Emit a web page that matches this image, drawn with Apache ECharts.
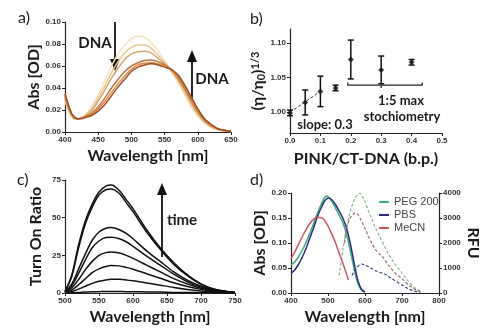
<!DOCTYPE html>
<html>
<head>
<meta charset="utf-8">
<script src="https://cdn.jsdelivr.net/npm/echarts@6/dist/echarts.min.js"></script>
<style>
  html, body { margin: 0; padding: 0; background: #fff; }
  #chart { width: 499px; height: 336px; }
</style>
</head>
<body>
<div id="chart"></div>
<script>
// ---- a) absorbance titration spectra ----
const waveA = [400,405,410,415,420,425,430,440,450,460,470,480,490,500,510,520,530,540,550,560,570,580,590,600,610,620,630,640,650];
const absA1 = [0.028,0.020,0.014,0.012,0.012,0.013,0.015,0.023,0.034,0.047,0.060,0.071,0.079,0.085,0.087,0.086,0.081,0.074,0.065,0.055,0.045,0.034,0.023,0.014,0.008,0.004,0.002,0.001,0.0005];
const absA2 = [0.030,0.021,0.015,0.012,0.012,0.013,0.015,0.021,0.031,0.042,0.054,0.064,0.072,0.077,0.079,0.079,0.076,0.070,0.063,0.056,0.047,0.036,0.025,0.016,0.009,0.005,0.002,0.001,0.0005];
const absA3 = [0.031,0.022,0.015,0.012,0.012,0.013,0.014,0.019,0.028,0.038,0.049,0.058,0.066,0.071,0.073,0.0735,0.072,0.067,0.062,0.056,0.048,0.038,0.027,0.017,0.010,0.005,0.003,0.001,0.0005];
const absA4 = [0.033,0.023,0.016,0.013,0.012,0.013,0.014,0.017,0.023,0.031,0.040,0.048,0.055,0.060,0.063,0.065,0.0655,0.064,0.061,0.057,0.050,0.040,0.029,0.019,0.011,0.006,0.003,0.0015,0.0005];
const absA5 = [0.034,0.024,0.016,0.013,0.012,0.013,0.014,0.016,0.021,0.028,0.036,0.044,0.051,0.057,0.061,0.0625,0.063,0.062,0.060,0.057,0.051,0.042,0.031,0.020,0.012,0.006,0.003,0.0015,0.0005];
const absA6 = [0.035,0.025,0.017,0.013,0.012,0.012,0.013,0.015,0.019,0.025,0.033,0.041,0.048,0.055,0.059,0.061,0.062,0.061,0.059,0.057,0.052,0.043,0.032,0.021,0.012,0.007,0.003,0.0015,0.0005];
const curvesA = [absA1, absA2, absA3, absA4, absA5, absA6];
const colorsA = ['#f4e2bf', '#ecc68e', '#d8a56c', '#b9774a', '#e58a3a', '#9c4f2a'];

// ---- b) viscosity vs. binding ratio ----
const ratioB = [0, 0.05, 0.1, 0.15, 0.2, 0.3, 0.4];
const viscB  = [0.999, 1.014, 1.030, 1.035, 1.076, 1.061, 1.072];
const errB   = [0.004, 0.018, 0.022, 0.004, 0.028, 0.020, 0.004];
const slopeX = [0, 0.1];
const slopeY = [1.0, 1.03];
const bracketX = [0.19, 0.19, 0.435, 0.435];
const bracketY = [1.043, 1.039, 1.039, 1.043];
const bracketMidX = [0.3, 0.3];
const bracketMidY = [1.039, 1.035];
const yTicksB = [1.00, 1.05, 1.10];

// ---- c) fluorescence turn-on over time ----
const waveC = [500,510,520,530,540,550,560,568,580,590,600,620,640,660,680,700,720,750];
const turnC1 = [1,12,32,48,59,67,71,71.7,68,62,56,42,30,20,12,6,2.5,0.3];
const turnC2 = [1,11,30,46,57,65,68.5,69,66,60,54,40.5,29,19,11.5,5.7,2.3,0.3];
const turnC3 = [0.5,6,16,26,35,40.5,43,43.4,42,39.5,36,28,21,14,8.5,4.5,2,0.3];
const turnC4 = [0.5,5,13,22,30,34.5,36.8,37,36,34,31,24.5,18.5,12.5,7.5,4,1.8,0.3];
const turnC5 = [0.3,3.5,9,15.5,21,25,26.8,27.2,26.5,25,23,18.5,14,9.5,6,3.2,1.5,0.2];
const turnC6 = [0.2,2,5.5,9.5,13.5,16,17.6,18.2,18,17,15.8,12.8,9.8,6.8,4.3,2.4,1.1,0.2];
const turnC7 = [0.1,1,2.6,4.5,6.4,7.8,8.7,9.1,9.1,8.7,8.1,6.7,5.2,3.7,2.4,1.4,0.7,0.1];
const turnC8 = [0,0.2,0.4,0.6,0.8,0.9,1,1,1,0.9,0.9,0.7,0.6,0.4,0.3,0.2,0.1,0];
const curvesC = [turnC1, turnC2, turnC3, turnC4, turnC5, turnC6, turnC7, turnC8];

// ---- d) solvent dependence: absorbance (solid) and emission (dashed) ----
const solvents = ['PEG 200', 'PBS', 'MeCN'];
const solventColors = ['#3fae7c', '#2b2d82', '#cf5560'];
const emissionColors = ['#86b48c', '#3c3d7a', '#9a6a66'];
const waveAbsD = [400,410,420,430,440,450,460,470,480,490,496,500,510,520,530,540,550,560,570,580,590,600];
const absPEG = [0.056,0.062,0.072,0.085,0.100,0.118,0.137,0.157,0.175,0.190,0.194,0.193,0.184,0.170,0.156,0.141,0.117,0.086,0.050,0.021,0.006,0.002];
const absPBS = [0.039,0.046,0.057,0.071,0.088,0.108,0.128,0.150,0.168,0.183,0.188,0.190,0.187,0.177,0.164,0.150,0.130,0.100,0.062,0.027,0.008,0.002];
const waveAbsMeCN = [400,410,420,430,440,450,460,470,480,490,500,510,520,530,540,550,555];
const absMeCN = [0.068,0.082,0.097,0.112,0.126,0.138,0.147,0.151,0.151,0.146,0.134,0.118,0.101,0.080,0.060,0.038,0.026];
const waveEmPEG = [530,540,550,560,570,580,586,590,600,610,620,630,640,650,660,670,680,690,700,710,720,730,740,750];
const emPEG = [700,1700,2600,3250,3700,3950,3990,3940,3650,3250,2900,2550,2250,1950,1650,1400,1180,980,800,600,420,260,140,60];
const waveEmMeCN = [545,550,560,570,575,580,590,600,610,620,630,640,650,660,670,680,690,700,710,720,730,740,750];
const emMeCN = [2000,2550,3000,3180,3200,3150,2900,2580,2250,1950,1700,1550,1400,1180,990,820,690,580,430,300,190,110,50];
const waveEmPBS = [565,570,580,590,600,610,620,630,640,650,660,670,680,690,700,710,720,730,740,750];
const emPBS = [700,850,1050,1160,1120,1040,960,880,820,780,700,600,500,410,320,230,150,90,50,20];

const pairs = (xs, ys) => xs.map((x, i) => [x, ys[i]]);

const INK = '#1a1a1a';
const TITLE_FONT = { fontFamily: 'Lato', fontWeight: 'bold', fontSize: 16, color: INK };

function axis(extra) {
  const base = {
    type: 'value',
    axisLine: { show: true, lineStyle: { color: '#222', width: 1.2 } },
    axisTick: { show: true, length: 3, lineStyle: { color: '#222', width: 1 } },
    axisLabel: { fontFamily: 'Liberation Sans', fontWeight: 'bold', fontSize: 8, color: '#333', margin: 4 },
    splitLine: { show: false },
    nameLocation: 'middle',
    nameTextStyle: Object.assign({}, TITLE_FONT)
  };
  for (const k in extra) {
    if (base[k] && typeof base[k] === 'object' && typeof extra[k] === 'object' && !Array.isArray(extra[k])) {
      base[k] = Object.assign({}, base[k], extra[k]);
    } else {
      base[k] = extra[k];
    }
  }
  return base;
}

const series = [];

curvesA.forEach((c, i) => {
  series.push({
    type: 'line', xAxisIndex: 0, yAxisIndex: 0, data: pairs(waveA, c),
    showSymbol: false, smooth: 0.3, lineStyle: { color: colorsA[i], width: 1.5 }, silent: true
  });
});

series.push({
  type: 'line', xAxisIndex: 1, yAxisIndex: 1, data: pairs(slopeX, slopeY), showSymbol: false,
  lineStyle: { color: '#333', width: 1, type: [3, 2] }, silent: true
});
series.push({
  type: 'line', xAxisIndex: 1, yAxisIndex: 1, data: pairs(bracketX, bracketY), showSymbol: false,
  lineStyle: { color: '#222', width: 1.3 }, silent: true
});
series.push({
  type: 'line', xAxisIndex: 1, yAxisIndex: 1, data: pairs(bracketMidX, bracketMidY), showSymbol: false,
  lineStyle: { color: '#222', width: 1.3 }, silent: true
});
series.push({
  type: 'custom', xAxisIndex: 1, yAxisIndex: 1,
  data: ratioB.map((x, i) => [x, viscB[i], errB[i]]),
  encode: { x: 0, y: 1 },
  renderItem: function (params, api) {
    const x = api.value(0), y = api.value(1), e = api.value(2);
    const top = api.coord([x, y + e]);
    const bot = api.coord([x, y - e]);
    const w = 3;
    const st = { stroke: '#111', lineWidth: 1.5 };
    return {
      type: 'group', children: [
        { type: 'line', shape: { x1: top[0], y1: top[1], x2: bot[0], y2: bot[1] }, style: st },
        { type: 'line', shape: { x1: top[0] - w, y1: top[1], x2: top[0] + w, y2: top[1] }, style: st },
        { type: 'line', shape: { x1: bot[0] - w, y1: bot[1], x2: bot[0] + w, y2: bot[1] }, style: st }
      ]
    };
  },
  silent: true
});
series.push({
  type: 'scatter', xAxisIndex: 1, yAxisIndex: 1, data: pairs(ratioB, viscB),
  symbol: 'diamond', symbolSize: 6, itemStyle: { color: '#111' }, silent: true
});

curvesC.forEach(c => {
  series.push({
    type: 'line', xAxisIndex: 2, yAxisIndex: 2, data: pairs(waveC, c),
    showSymbol: false, smooth: 0.3, lineStyle: { color: '#111', width: 1.5 }, silent: true
  });
});

const absD = [pairs(waveAbsD, absPEG), pairs(waveAbsD, absPBS), pairs(waveAbsMeCN, absMeCN)];
const emD = [pairs(waveEmPEG, emPEG), pairs(waveEmPBS, emPBS), pairs(waveEmMeCN, emMeCN)];
solvents.forEach((name, i) => {
  series.push({
    name: name, type: 'line', xAxisIndex: 3, yAxisIndex: 3, data: absD[i],
    showSymbol: false, smooth: 0.3, lineStyle: { color: solventColors[i], width: 1.5 },
    itemStyle: { color: solventColors[i] }, silent: true
  });
  series.push({
    name: name + ' emission', type: 'line', xAxisIndex: 3, yAxisIndex: 4, data: emD[i],
    showSymbol: false, smooth: 0.3, lineStyle: { color: emissionColors[i], width: 1.2, type: [3, 2] }, silent: true
  });
});

function arrow(x, yTail, yTip, up) {
  const base = up ? yTip + 12 : yTip - 12;
  return [
    { type: 'line', shape: { x1: x, y1: yTail, x2: x, y2: base }, style: { stroke: '#111', lineWidth: 1.8 } },
    { type: 'polygon', shape: { points: [[x - 5, base], [x + 5, base], [x, yTip]] }, style: { fill: '#111' } }
  ];
}

function label(text, x, y, size, weight, align) {
  return {
    type: 'text', x: x, y: y,
    style: { text: text, fontFamily: 'Lato', fontSize: size, fontWeight: weight || 'bold', fill: INK,
             align: align || 'center', verticalAlign: 'middle' }
  };
}

const graphic = [
  label('a)', 18, 18, 16, 'normal', 'left'),
  label('b)', 250, 19, 16, 'normal', 'left'),
  label('c)', 17, 180, 16, 'normal', 'left'),
  label('d)', 250, 180, 16, 'normal', 'left'),
  label('DNA', 95, 43, 15),
  label('DNA', 212, 79, 15),
  label('time', 182, 220, 15),
  label('slope: 0.3', 325, 125, 13),
  label('1:5 max', 401, 101, 13),
  label('stochiometry', 402, 117, 13),
  ...arrow(115, 22, 71, false),
  ...arrow(192, 100, 50, true),
  ...arrow(162, 257, 183, true)
];

const option = {
  backgroundColor: '#fff',
  animation: false,
  grid: [
    { left: 65, top: 22, width: 166, height: 110 },
    { left: 290, top: 29, width: 152, height: 104 },
    { left: 65, top: 180, width: 170, height: 113 },
    { left: 291, top: 193, width: 148, height: 100 }
  ],
  xAxis: [
    axis({ gridIndex: 0, min: 400, max: 650, interval: 50, name: 'Wavelength [nm]', nameGap: 16 }),
    axis({ gridIndex: 1, min: 0, max: 0.5, interval: 0.1, name: 'PINK/CT-DNA (b.p.)', nameGap: 18,
           axisLabel: { formatter: v => v.toFixed(1) } }),
    axis({ gridIndex: 2, min: 500, max: 750, interval: 50, name: 'Wavelength [nm]', nameGap: 16 }),
    axis({ gridIndex: 3, min: 400, max: 800, interval: 100, name: 'Wavelength [nm]', nameGap: 16 })
  ],
  yAxis: [
    axis({ gridIndex: 0, min: 0, max: 0.1, interval: 0.02, name: 'Abs [OD]', nameGap: 21,
           axisLabel: { formatter: v => v.toFixed(2) } }),
    axis({ gridIndex: 1, min: 0.97, max: 1.12, name: '(η/η{sub|0}){sup|1/3}', nameGap: 19,
           axisLabel: { customValues: yTicksB, formatter: v => v.toFixed(2) },
           axisTick: { customValues: yTicksB },
           nameTextStyle: { rich: {
             sub: { fontFamily: 'Lato', fontWeight: 'bold', fontSize: 11, color: INK, verticalAlign: 'bottom', padding: [6, 0, 0, 0] },
             sup: { fontFamily: 'Lato', fontWeight: 'bold', fontSize: 11, color: INK, verticalAlign: 'top', padding: [0, 0, 6, 0] }
           } } }),
    axis({ gridIndex: 2, min: 0, max: 75, interval: 25, name: 'Turn On Ratio', nameGap: 21 }),
    axis({ gridIndex: 3, min: 0, max: 0.2, interval: 0.05, name: 'Abs [OD]', nameGap: 21,
           axisLabel: { formatter: v => v.toFixed(2) } }),
    axis({ gridIndex: 3, position: 'right', min: 0, max: 4000, interval: 1000, name: 'RFU', nameGap: 21,
           nameRotate: -90, axisLabel: { formatter: v => String(v) } })
  ],
  legend: {
    data: solvents, orient: 'vertical', left: 374, top: 191, itemWidth: 10, itemHeight: 2,
    itemGap: 1, icon: 'rect', selectedMode: false,
    textStyle: { fontFamily: 'Liberation Sans', fontSize: 11, color: '#444', lineHeight: 12 }
  },
  graphic: graphic,
  series: series
};

echarts.init(document.getElementById('chart'), null, { renderer: 'canvas' }).setOption(option);
</script>
</body>
</html>
